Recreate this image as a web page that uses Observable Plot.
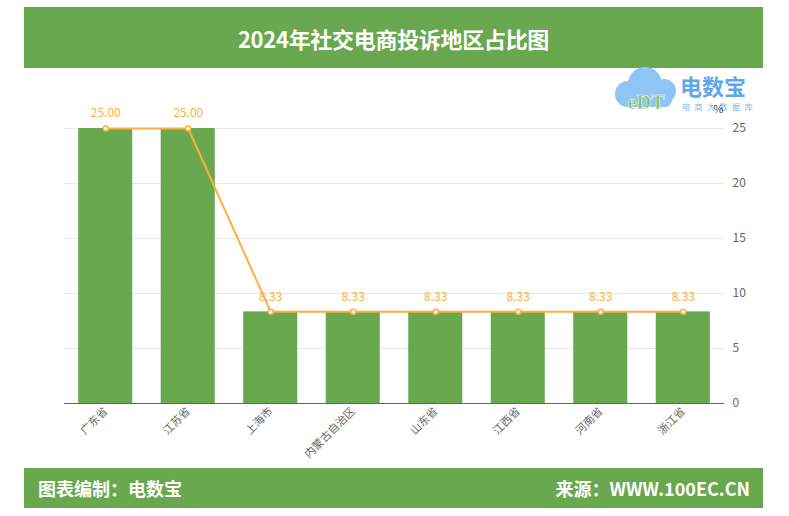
<!DOCTYPE html>
<html>
<head>
<meta charset="utf-8">
<script src="https://cdn.jsdelivr.net/npm/d3@7"></script>
<script src="https://cdn.jsdelivr.net/npm/@observablehq/plot@0.6"></script>
<style>
  html, body { margin: 0; padding: 0; background: #fff; }
  body { width: 789px; height: 516px; position: relative; overflow: hidden; font-family: "Noto Sans CJK SC", "Noto Sans", sans-serif; }
  #header { position: absolute; left: 24px; top: 7px; width: 739px; height: 61px; background: #69a84f; color: #fff; font-weight: bold; font-size: 22px; display: flex; align-items: center; justify-content: center; letter-spacing: -0.3px; }
  #chart { position: absolute; left: 0; top: 68px; }
  #footer { position: absolute; left: 24px; top: 468px; width: 739px; height: 40px; background: #69a84f; color: #fff; font-weight: bold; font-size: 18px; display: flex; align-items: center; justify-content: space-between; box-sizing: border-box; padding: 0 13px 0 14px; }
  #logo { position: absolute; left: 612px; top: 64px; width: 150px; height: 50px; }
</style>
</head>
<body>
<div id="header">2024年社交电商投诉地区占比图</div>
<div id="footer"><span>图表编制：电数宝</span><span>来源：WWW.100EC.CN</span></div>
<svg id="logo" width="150" height="50" viewBox="0 0 150 50">
  <g fill="#8ec5f2">
    <circle cx="16" cy="30" r="13"/>
    <circle cx="33" cy="20" r="17"/>
    <circle cx="52" cy="27" r="12"/>
    <rect x="16" y="28" width="44" height="15" rx="7"/>
  </g>
  <text x="34" y="45" text-anchor="middle" font-family="Liberation Serif, serif" font-size="20" font-weight="bold" fill="#7cc06a" stroke="#fff" stroke-width="0.5">eDT</text>
  <text x="68" y="31" font-family="Noto Sans CJK SC" font-weight="bold" font-size="22" fill="#5ea8e8">电数宝</text>
  <text x="70" y="46" font-family="Noto Sans CJK SC" font-size="8" fill="#7ab7ec" letter-spacing="4.5">电商大数据库</text>
</svg>
<div id="chart"></div>
<script>
const regions = ["广东省", "江苏省", "上海市", "内蒙古自治区", "山东省", "江西省", "河南省", "浙江省"];
const shares = [25.00, 25.00, 8.33, 8.33, 8.33, 8.33, 8.33, 8.33];
const yTicks = [0, 5, 10, 15, 20, 25];

const data = regions.map((r, i) => ({region: r, value: shares[i]}));
const orange = "#ffae3d";
const green = "#69a84f";

const chart = Plot.plot({
  width: 789,
  height: 400,
  marginLeft: 64,
  marginRight: 65,
  marginTop: 60,
  marginBottom: 65,
  style: {fontFamily: "'Noto Sans CJK SC', 'Noto Sans', sans-serif", background: "transparent"},
  x: {domain: regions, paddingInner: 0.345, paddingOuter: 0.172, round: false, label: null},
  y: {domain: [0, 25], label: null},
  marks: [
    Plot.gridY(yTicks, {stroke: "#e6e6e6", strokeOpacity: 1}),
    Plot.barY(data, {x: "region", y: "value", fill: green}),
    Plot.ruleY([0], {stroke: "#666", strokeWidth: 1}),
    Plot.axisX({tickSize: 0, tickRotate: -45, tickPadding: 6, fontSize: 11, fill: "#666"}),
    Plot.axisY(yTicks, {anchor: "right", tickSize: 0, tickPadding: 8, fontSize: 12, fill: "#666", textAnchor: "start"}),
    Plot.lineY(data, {x: "region", y: "value", stroke: orange, strokeWidth: 2}),
    Plot.dot(data, {x: "region", y: "value", r: 2.5, stroke: orange, strokeWidth: 1.5, fill: "#fff"}),
    Plot.text(data, {x: "region", y: "value", text: d => d.value.toFixed(2), dy: -15, fill: orange, fontSize: 12}),
    Plot.text(["%"], {frameAnchor: "top-right", dx: -1, dy: -23, fill: "#444", fontSize: 11})
  ]
});
const holder = document.getElementById("chart");
holder.appendChild(chart);
</script>
</body>
</html>
